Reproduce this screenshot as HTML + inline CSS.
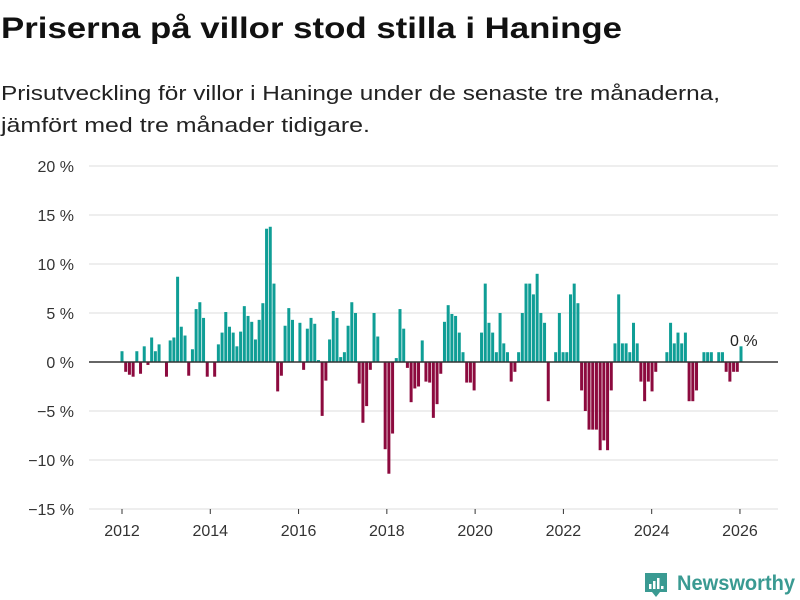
<!DOCTYPE html>
<html><head><meta charset="utf-8"><style>
html,body{margin:0;padding:0;background:#fff;width:800px;height:600px;overflow:hidden}
svg{display:block;font-family:"Liberation Sans",sans-serif}
</style></head><body>
<svg id="chart" width="800" height="600" viewBox="0 0 800 600">
<text x="1" y="38" font-size="30" font-weight="bold" fill="#111" textLength="621" lengthAdjust="spacingAndGlyphs">Priserna på villor stod stilla i Haninge</text>
<text x="1" y="100" font-size="20" fill="#222" textLength="719" lengthAdjust="spacingAndGlyphs">Prisutveckling för villor i Haninge under de senaste tre månaderna,</text>
<text x="1" y="132" font-size="20" fill="#222" textLength="369" lengthAdjust="spacingAndGlyphs">jämfört med tre månader tidigare.</text>
<g id="grid"></g><g id="bars"></g><g id="axes"></g>
<text x="730" y="346" font-size="16" fill="#222">0 %</text>
<g>
<path d="M645 573h22v19h-7l-4 5-4-5h-7z" fill="#3a9a92"/>
<rect x="649" y="584" width="2.5" height="5" fill="#fff"/><rect x="653" y="581" width="2.5" height="8" fill="#fff"/><rect x="657" y="578" width="2.5" height="11" fill="#fff"/><rect x="661" y="586" width="2.5" height="3" fill="#fff"/>
<text x="677" y="590" font-size="21" font-weight="bold" fill="#3a9a92" textLength="118" lengthAdjust="spacingAndGlyphs">Newsworthy</text>
</g>
</svg>
<script>
const values = [1.1,-1.0,-1.3,-1.5,1.1,-1.2,1.6,-0.3,2.5,1.1,1.8,0,
-1.5,2.2,2.5,8.7,3.6,2.7,-1.4,1.3,5.4,6.1,4.5,-1.5,
0,-1.5,1.8,3.0,5.1,3.6,3.0,1.6,3.1,5.7,4.7,4.1,
2.3,4.3,6.0,13.6,13.8,8.0,-3.0,-1.4,3.7,5.5,4.3,0,
4.0,-0.8,3.4,4.5,3.9,0.2,-5.5,-1.9,2.3,5.2,4.5,0.5,
1.0,3.7,6.1,5.0,-2.2,-6.2,-4.5,-0.8,5.0,2.6,0,-8.9,
-11.4,-7.3,0.4,5.4,3.4,-0.6,-4.1,-2.7,-2.5,2.2,-2.0,-2.1,
-5.7,-4.3,-1.2,4.1,5.8,4.9,4.7,3.0,1.0,-2.1,-2.1,-2.9,
0,3.0,8.0,4.0,3.0,1.0,5.0,1.9,1.0,-2.0,-1.0,1.0,
5.0,8.0,8.0,6.9,9.0,5.0,4.0,-4.0,0,1.0,5.0,1.0,
1.0,6.9,8.0,6.0,-2.9,-5.0,-6.9,-6.9,-6.9,-9.0,-8.0,-9.0,
-2.9,1.9,6.9,1.9,1.9,1.0,4.0,1.9,-2.0,-4.0,-2.0,-3.0,
-1.0,0,0,1.0,4.0,1.9,3.0,1.9,3.0,-4.0,-4.0,-2.9,
0,1.0,1.0,1.0,0,1.0,1.0,-1.0,-2.0,-1.0,-1.0,1.6];
const yTicks = [20,15,10,5,0,-5,-10,-15];
const yTickLabels = ["20 %","15 %","10 %","5 %","0 %","−5 %","−10 %","−15 %"];
const xTicks = [2012,2014,2016,2018,2020,2022,2024,2026];
const NS="http://www.w3.org/2000/svg";
function y(v){return 362 - v*9.8;}
function xYear(yr){return 122 + (yr-2012)*44.14;}
function xBar(i){return 122 + i*(741-122)/(values.length-1);}
function mk(tag,attrs,parent){const e=document.createElementNS(NS,tag);for(const k in attrs)e.setAttribute(k,attrs[k]);parent.appendChild(e);return e;}
const grid=document.getElementById('grid'),bars=document.getElementById('bars'),axes=document.getElementById('axes');
yTicks.forEach((t,i)=>{
  if(t!==0){const l=mk('line',{x1:89,x2:778,y1:y(t),y2:y(t),stroke:'#dcdcdc','stroke-width':1},grid);
  
  }
  const tx=mk('text',{x:74,y:y(t)+6,'font-size':16,fill:'#333','text-anchor':'end'},axes);
  tx.textContent=yTickLabels[i];
  
  
});
values.forEach((v,i)=>{
  if(v===0)return;
  const r=mk('rect',{x:xBar(i)-1.5,width:3,y:Math.min(y(v),y(0)),height:Math.abs(y(v)-y(0)),fill:v>0?'#0f9e96':'#8c0a3e'},bars);
  
  
});
const zl=mk('line',{x1:89,x2:778,y1:y(0),y2:y(0),stroke:'#333','stroke-width':1.5},axes);


xTicks.forEach(t=>{
  const tk=mk('line',{x1:xYear(t),x2:xYear(t),y1:509,y2:514,stroke:'#333'},axes);
  
  
  const tx=mk('text',{x:xYear(t),y:536,'font-size':16,fill:'#333','text-anchor':'middle'},axes);
  tx.textContent=t;
  
  
});
</script>
</body></html>
